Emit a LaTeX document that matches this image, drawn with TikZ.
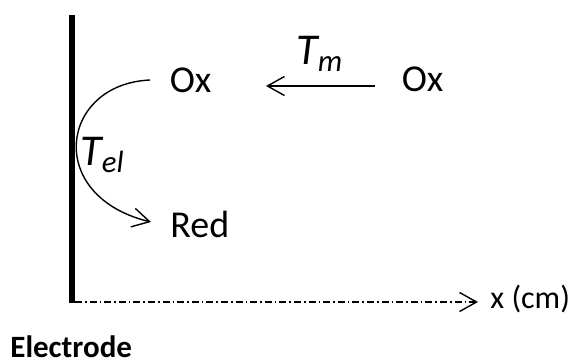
\documentclass[tikz,border=0pt]{standalone}
\usepackage{fontspec}
\setmainfont{Carlito}
\usetikzlibrary{arrows.meta,positioning}

\begin{document}
\begin{tikzpicture}[
  x=0.5pt, y=-0.5pt,
  species/.style={font=\fontsize{19}{22}\selectfont, inner sep=0pt, anchor=base west},
  rate/.style={font=\fontsize{22}{25}\selectfont\itshape, inner sep=0pt, anchor=base west},
  thinarrow/.style={line width=0.7pt, -{Straight Barb[length=8.5pt,width=9.5pt,line width=0.7pt]}}
]
  \useasboundingbox (0,0) rectangle (571,363);

  % electrode and x axis
  \coordinate (top) at (72,15);
  \coordinate (origin) at (72,303);
  \coordinate (axisstart) at (75,302);
  \coordinate (axisend) at (478,302);
  \draw[line width=3pt] (top) -- (origin);
  \draw[thinarrow, dash pattern=on 3.5pt off 1.5pt on 0.8pt off 1.5pt]
    (axisstart) -- (axisend);
  \node[species, font=\fontsize{16}{19}\selectfont] (xlabel) at (490,308) {x (cm)};
  \node[species, font=\fontsize{15.5}{19}\selectfont\bfseries] (electrode) at (10,357) {Electrode};

  % species
  \node[species] (oxsurf) at (169.5,93) {Ox};
  \node[species] (oxbulk) at (401.5,92) {Ox};
  \node[species] (red) at (170,237) {Red};

  % mass transport
  \coordinate (tmstart) at (375,86);
  \coordinate (tmend) at (266,86);
  \draw[thinarrow] (tmstart) -- (tmend);
  \node[rate] (tm) at (296,65) {T\textsubscript{m}};

  % electron transfer
  \coordinate (arcstart) at (150,80);
  \coordinate (arcend) at (151,222);
  \draw[thinarrow] (arcstart) .. controls (60,84) and (44,196) .. (arcend);
  \node[rate] (tel) at (80,165) {T\textsubscript{el}};
\end{tikzpicture}
\end{document}
